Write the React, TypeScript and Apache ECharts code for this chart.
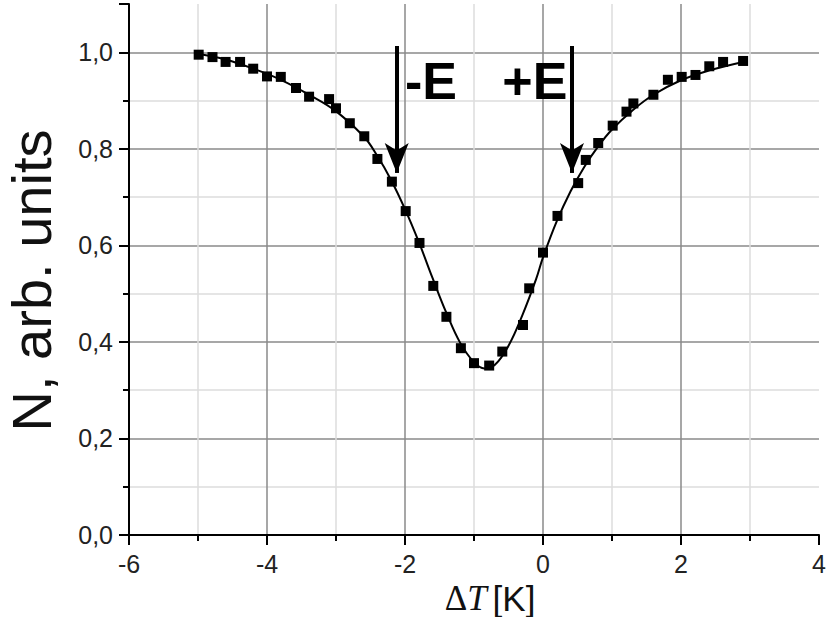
import React, { useEffect, useRef } from "react";
import * as echarts from "echarts";

const dataX = [-4.99, -4.79, -4.6, -4.39, -4.2, -4.0, -3.8, -3.58, -3.39, -3.1, -3.0, -2.8, -2.59, -2.4, -2.19, -1.99, -1.79, -1.59, -1.4, -1.19, -1.0, -0.78, -0.59, -0.29, -0.2, 0.0, 0.21, 0.51, 0.62, 0.8, 1.01, 1.21, 1.31, 1.6, 1.81, 2.01, 2.21, 2.41, 2.61, 2.9];
const dataY = [0.995, 0.99, 0.98, 0.98, 0.966, 0.95, 0.949, 0.926, 0.908, 0.903, 0.884, 0.853, 0.826, 0.779, 0.732, 0.671, 0.605, 0.516, 0.452, 0.387, 0.356, 0.351, 0.38, 0.435, 0.511, 0.585, 0.661, 0.729, 0.777, 0.812, 0.848, 0.877, 0.894, 0.912, 0.943, 0.949, 0.953, 0.971, 0.98, 0.982];

const curveX = [-5.0, -4.6, -4.2, -3.8, -3.4, -3.0, -2.6, -2.4, -2.2, -2.0, -1.8, -1.6, -1.4, -1.2, -1.0, -0.85, -0.7, -0.5, -0.3, -0.1, 0.0, 0.2, 0.4, 0.6, 0.8, 1.0, 1.3, 1.6, 2.0, 2.4, 2.9];
const curveY = [0.997, 0.985, 0.966, 0.943, 0.913, 0.878, 0.826, 0.785, 0.735, 0.675, 0.607, 0.532, 0.46, 0.398, 0.358, 0.345, 0.352, 0.392, 0.455, 0.53, 0.575, 0.65, 0.712, 0.763, 0.805, 0.84, 0.88, 0.912, 0.942, 0.962, 0.98];

const arrowX = [-2.12, 0.42];
const arrowTop = 1.013;
const arrowTip = 0.75;
const markLabels = ["-E", "+E"];
const markLabelX = [-2.0, -0.59];
const markLabelY = 0.94;

export default function App() {
  const ref = useRef<HTMLDivElement>(null);
  useEffect(() => {
    document.body.style.margin = "0";
    const chart = echarts.init(ref.current!, null, { renderer: "svg" });
    const font = "Liberation Sans";
    chart.setOption({
      animation: false,
      backgroundColor: "#fff",
      grid: { left: 129, right: 8, top: 4, bottom: 82, containLabel: false, outerBoundsMode: "none" },
      xAxis: {
        type: "value",
        min: -6,
        max: 4,
        interval: 2,
        name: "{d|Δ}{t|T}{k|[K]}",
        nameLocation: "middle",
        nameGap: 43,
        nameTextStyle: {
          padding: [0, 0, 0, 32],
          rich: {
            d: { fontFamily: "Liberation Serif", fontSize: 35, color: "#111" },
            t: { fontFamily: "Liberation Serif", fontStyle: "italic", fontSize: 35, color: "#111", padding: [0, 6, 0, 0] },
            k: { fontFamily: font, fontSize: 35, color: "#111" },
          },
        },
        axisLine: { show: true, onZero: false, lineStyle: { color: "#000", width: 2 } },
        axisTick: { show: true, inside: false, length: 10, lineStyle: { color: "#000", width: 2 } },
        minorTick: { show: true, splitNumber: 2, length: 6, lineStyle: { color: "#000", width: 2 } },
        axisLabel: { fontFamily: font, fontSize: 25, color: "#222", margin: 16 },
        splitLine: { show: true, showMinLine: false, showMaxLine: false, lineStyle: { color: "#8a8a8a", width: 1.5 } },
        minorSplitLine: { show: true, lineStyle: { color: "#dcdcdc", width: 1.5 } },
      },
      yAxis: {
        type: "value",
        min: 0,
        max: 1.1,
        interval: 0.2,
        name: "N, arb. units",
        nameLocation: "middle",
        nameRotate: 90,
        nameGap: 70,
        nameTextStyle: { fontFamily: font, fontSize: 56, color: "#111", padding: [0, 22, 0, 0] },
        axisLine: { show: true, onZero: false, lineStyle: { color: "#000", width: 2 } },
        axisTick: { show: true, inside: false, length: 10, lineStyle: { color: "#000", width: 2 } },
        minorTick: { show: true, splitNumber: 2, length: 6, lineStyle: { color: "#000", width: 2 } },
        axisLabel: {
          fontFamily: font,
          fontSize: 25,
          color: "#222",
          margin: 16,
          showMaxLabel: false,
          formatter: (v: number) => v.toFixed(1).replace(".", ","),
        },
        splitLine: { show: true, showMinLine: false, showMaxLine: false, lineStyle: { color: "#8a8a8a", width: 1.5 } },
        minorSplitLine: { show: true, lineStyle: { color: "#dcdcdc", width: 1.5 } },
      },
      series: [
        {
          type: "line",
          data: curveX.map((x, i) => [x, curveY[i]]),
          smooth: 0.4,
          showSymbol: false,
          lineStyle: { color: "#000", width: 2 },
          z: 2,
        },
        {
          type: "scatter",
          data: dataX.map((x, i) => [x, dataY[i]]),
          symbol: "rect",
          symbolSize: 10,
          itemStyle: { color: "#000", opacity: 1 },
          z: 3,
          markLine: {
            silent: true,
            symbol: ["none", "arrow"],
            symbolSize: [18, 30],
            label: { show: false },
            lineStyle: { color: "#000", width: 4, type: "solid" },
            data: arrowX.map((x) => [{ coord: [x, arrowTop] }, { coord: [x, arrowTip] }]),
          },
          markPoint: {
            silent: true,
            symbol: "circle",
            symbolSize: 0,
            data: markLabels.map((t, i) => ({
              coord: [markLabelX[i], markLabelY],
              value: t,
              label: {
                show: true,
                formatter: t,
                position: [0, 0],
                align: "left",
                verticalAlign: "middle",
                fontFamily: font,
                fontWeight: "bold",
                fontSize: 52,
                color: "#000",
              },
            })),
          },
        },
      ],
    });
    return () => chart.dispose();
  }, []);
  return <div ref={ref} style={{ width: 827, height: 617 }} />;
}
